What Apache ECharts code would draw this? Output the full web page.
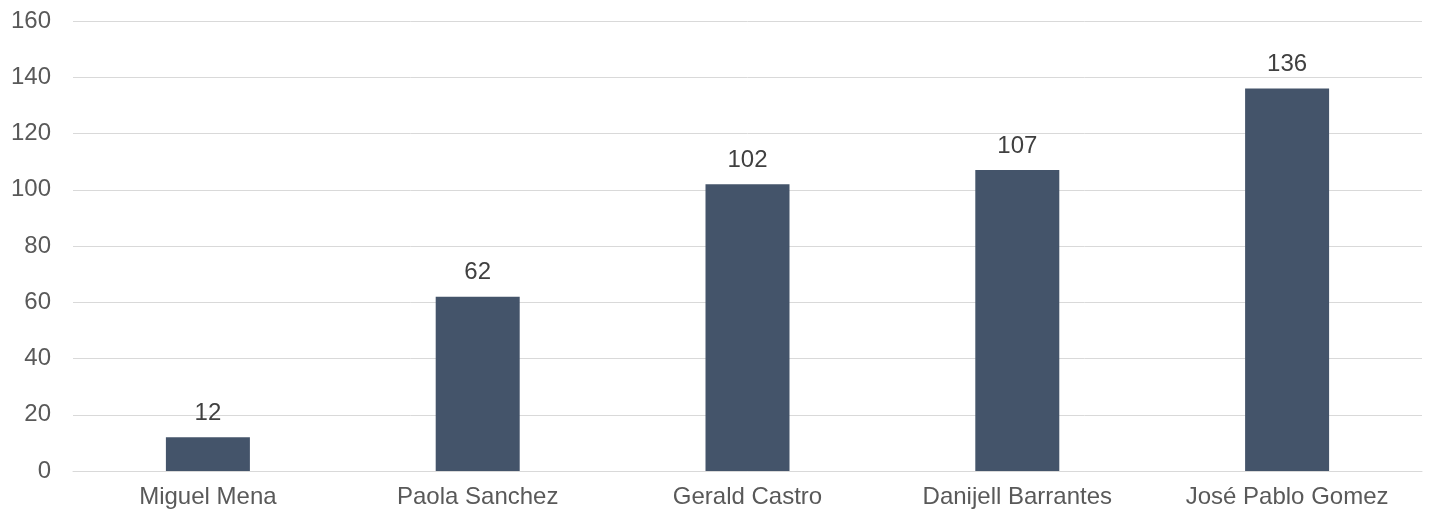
<!DOCTYPE html>
<html><head><meta charset="utf-8">
<script src="https://cdn.jsdelivr.net/npm/echarts@6/dist/echarts.min.js"></script>
<style>html,body{margin:0;padding:0;background:#fff}#c{width:1432px;height:516px}</style>
</head><body><div id="c"></div>
<script>
const categories = ["Miguel Mena", "Paola Sanchez", "Gerald Castro", "Danijell Barrantes", "José Pablo Gomez"];
const values = [12, 62, 102, 107, 136];
const chart = echarts.init(document.getElementById('c'), null, {renderer: 'canvas'});
const font = '"Liberation Sans", Arial, sans-serif';
chart.setOption({
  animation: false,
  grid: {left: 73, right: 10, top: 21, bottom: 45, containLabel: false},
  xAxis: {
    type: 'category', data: categories,
    axisLine: {show: true, lineStyle: {color: '#d9d9d9', width: 1}},
    axisTick: {show: false},
    axisLabel: {color: '#595959', fontSize: 24, fontFamily: font, margin: 14}
  },
  yAxis: {
    type: 'value', min: 0, max: 160, interval: 20,
    axisLine: {show: false}, axisTick: {show: false},
    splitLine: {lineStyle: {color: '#d9d9d9', width: 1}},
    axisLabel: {color: '#595959', fontSize: 24, fontFamily: font, margin: 22}
  },
  series: [{
    type: 'bar', data: values, barWidth: 84,
    itemStyle: {color: '#44546A'},
    label: {show: true, position: 'top', distance: 12, color: '#404040', fontSize: 24, fontFamily: font}
  }]
});
</script></body></html>
